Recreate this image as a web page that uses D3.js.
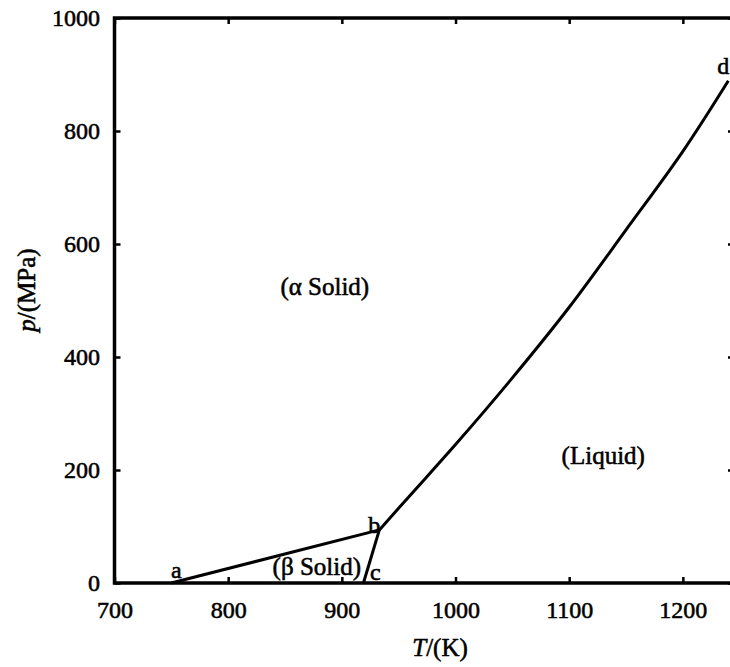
<!DOCTYPE html>
<html>
<head>
<meta charset="utf-8">
<script src="https://cdn.jsdelivr.net/npm/d3@7"></script>
<style>
	body { margin: 0; background: #fff; }
	text { font-family: "Liberation Serif", "DejaVu Serif", serif; fill: #000; stroke: #000; stroke-width: 0.55px; }
</style>
</head>
<body>
<div id="chart"></div>
<script>

// data
var tempTicks = [700, 800, 900, 1000, 1100, 1200];
var presTicks = [0, 200, 400, 600, 800, 1000];

// a -> b : beta / alpha solid boundary
var abT = [750, 933];
var abP = [0, 94];
// c -> b : beta solid melting
var cbT = [919, 933];
var cbP = [0, 94];
// b -> d : alpha solid melting
var bdT = [933, 960, 1000, 1050, 1100, 1150, 1200, 1240];
var bdP = [94, 155, 245, 363, 488, 625, 764, 889];

var pointNames = ['a', 'b', 'c', 'd'];
var pointT = [750, 933, 919, 1240];
var pointP = [0, 94, 0, 889];

var regionNames = ['(\u03b1 Solid)', '(Liquid)', '(\u03b2 Solid)'];
var regionT = [885, 1130, 878];
var regionP = [510, 211, 14];


var width = 730, height = 667;
var margin = {top: 18, right: -4, bottom: 84, left: 114.5};

var x = d3.scaleLinear().domain([700, 1245]).range([margin.left, width - margin.right]);
var y = d3.scaleLinear().domain([0, 1000]).range([height - margin.bottom, margin.top]);

var svg = d3.select("#chart").append("svg")
	.attr("width", width)
	.attr("height", height);

// frame
svg.append("rect")
	.attr("x", x(700))
	.attr("y", y(1000))
	.attr("width", x(1245) - x(700))
	.attr("height", y(0) - y(1000))
	.attr("fill", "none")
	.attr("stroke", "#000")
	.attr("stroke-width", 3.5);

// axes, ticks pointing in
var xAxis = svg.append("g")
	.attr("transform", "translate(0," + y(0) + ")")
	.call(d3.axisBottom(x).tickValues(tempTicks).tickSize(-6).tickPadding(18).tickFormat(d3.format("d")));
var xTop = svg.append("g")
	.attr("transform", "translate(0," + y(1000) + ")")
	.call(d3.axisTop(x).tickValues(tempTicks).tickSize(-6).tickFormat(""));
var yAxis = svg.append("g")
	.attr("transform", "translate(" + x(700) + ",0)")
	.call(d3.axisLeft(y).tickValues(presTicks).tickSize(-6).tickPadding(14.5).tickFormat(d3.format("d")));
var yRight = svg.append("g")
	.attr("transform", "translate(" + x(1245) + ",0)")
	.call(d3.axisRight(y).tickValues(presTicks).tickSize(-6).tickFormat(""));

[xAxis, xTop, yAxis, yRight].forEach((g) => {
	g.select(".domain").remove();
	g.selectAll(".tick line").attr("stroke", "#000").attr("stroke-width", 2.5);
	g.selectAll(".tick text")
		.attr("font-size", 24)
		.attr("fill", "#000");
});

// axis titles
svg.append("text")
	.attr("x", 440)
	.attr("y", 656)
	.attr("text-anchor", "middle")
	.attr("font-size", 25)
	.html('<tspan font-style="italic">T</tspan>/(K)');

svg.append("text")
	.attr("transform", "translate(35,290) rotate(-90)")
	.attr("text-anchor", "middle")
	.attr("font-size", 25)
	.html('<tspan font-style="italic">p</tspan>/(MPa)');

// phase boundaries
var line = d3.line()
	.x((d) => x(d[0]))
	.y((d) => y(d[1]));

function zip(a, b) { return a.map((d, i) => [d, b[i]]); }

var lines = svg.append("g")
	.attr("fill", "none")
	.attr("stroke", "#000")
	.attr("stroke-width", 3)
	.attr("stroke-linejoin", "round");

lines.append("path").attr("d", line(zip(abT, abP)));
lines.append("path").attr("d", line(zip(cbT, cbP)));
lines.append("path").attr("d", line.curve(d3.curveCatmullRom)(zip(bdT, bdP)));

// point labels
var labelDx = [5, -5, 12, -5];
var labelDy = [-5, 3, -3, -7];
svg.append("g").selectAll("text")
	.data(pointNames)
	.enter().append("text")
	.attr("x", (d, i) => x(pointT[i]) + labelDx[i])
	.attr("y", (d, i) => y(pointP[i]) + labelDy[i])
	.attr("text-anchor", "middle")
	.attr("font-size", 24)
	.text((d) => d);

// region labels
svg.append("g").selectAll("text")
	.data(regionNames)
	.enter().append("text")
	.attr("x", (d, i) => x(regionT[i]))
	.attr("y", (d, i) => y(regionP[i]))
	.attr("text-anchor", "middle")
	.attr("font-size", 25)
	.text((d) => d);

</script>
</body>
</html>
